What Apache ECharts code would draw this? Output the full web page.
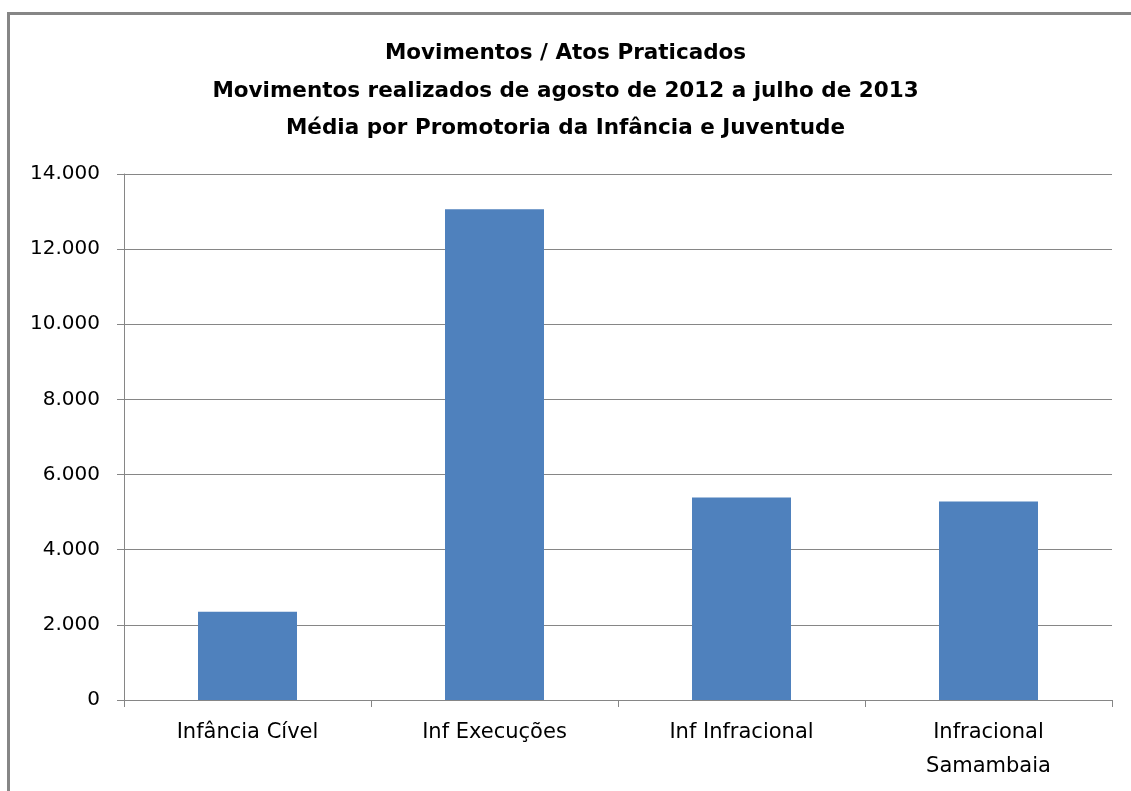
<!DOCTYPE html>
<html style="height: 100%">
<head>
    <meta charset="utf-8">
</head>
<body style="height: 100%; margin: 0; background: #fff">
    <div id="container" style="width: 1131px; height: 791px"></div>
    <script type="text/javascript" src="https://cdn.jsdelivr.net/npm/echarts@6/dist/echarts.min.js"></script>
    <script type="text/javascript">
        var categories = ['Infância Cível', 'Inf Execuções', 'Inf Infracional', 'Infracional\nSamambaia'];
        var values = [2350, 13060, 5390, 5285];
        var titleLines = [
            'Movimentos / Atos Praticados',
            'Movimentos realizados de agosto de 2012 a julho de 2013',
            'Média por Promotoria da Infância e Juventude'
        ];

        var myChart = echarts.init(document.getElementById('container'));
        var font = 'DejaVu Sans';

        var option = {
            backgroundColor: '#fff',
            animation: false,
            title: {
                text: titleLines.join('\n'),
                left: 'center',
                top: 30,
                textStyle: {
                    fontFamily: font,
                    fontSize: 21.5,
                    fontWeight: 'bold',
                    lineHeight: 37.5,
                    color: '#000'
                }
            },
            graphic: [
                {
                    type: 'rect',
                    shape: { x: 8.5, y: 13.5, width: 1200, height: 900 },
                    style: { fill: 'none', stroke: '#868686', lineWidth: 3 }
                }
            ],
            grid: {
                left: 124,
                right: 19,
                top: 174,
                bottom: 91,
                containLabel: false
            },
            xAxis: {
                type: 'category',
                data: categories,
                axisLine: { lineStyle: { color: '#868686', width: 1 } },
                axisTick: { show: true, length: 7, lineStyle: { color: '#868686' } },
                axisLabel: {
                    interval: 0,
                    margin: 16,
                    fontFamily: font,
                    fontSize: 21,
                    lineHeight: 34,
                    color: '#000'
                }
            },
            yAxis: {
                type: 'value',
                min: 0,
                max: 14000,
                interval: 2000,
                axisLine: { show: true, lineStyle: { color: '#868686', width: 1 } },
                axisTick: { show: true, length: 7, lineStyle: { color: '#868686' } },
                splitLine: { show: true, lineStyle: { color: '#868686', width: 1 } },
                axisLabel: {
                    margin: 24,
                    fontFamily: font,
                    fontSize: 20,
                    color: '#000',
                    formatter: function (v) {
                        return v.toString().replace(/\B(?=(\d{3})+(?!\d))/g, '.');
                    }
                }
            },
            series: [
                {
                    type: 'bar',
                    data: values,
                    barWidth: 99,
                    itemStyle: { color: '#4F81BD' }
                }
            ]
        };
        myChart.setOption(option);
    </script>
</body>
</html>
